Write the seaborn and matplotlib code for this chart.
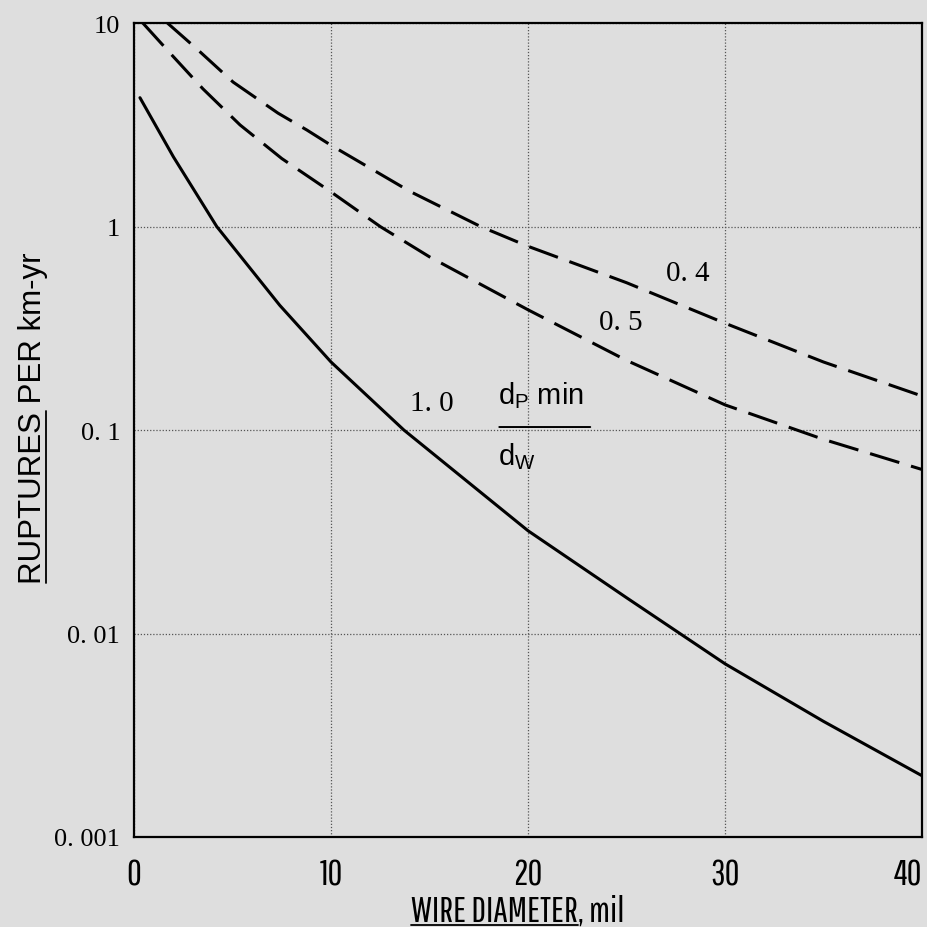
import numpy as np
import pandas as pd
import matplotlib
matplotlib.use('Agg')
import matplotlib.pyplot as plt
from matplotlib.lines import Line2D
from matplotlib.ticker import FixedLocator, NullLocator
import seaborn as sns

# curve values (x = wire diameter in mil, y = ruptures per km-yr)
x_10 = [0.3, 2.0, 4.2, 7.4, 10.0, 13.7, 20.0, 25.0, 30.0, 35.0, 40.0]
y_10 = [4.3, 2.2, 1.0, 0.41, 0.216, 0.1, 0.032, 0.015, 0.0071, 0.0037, 0.0020]

x_05 = [0.45, 1.93, 3.5, 5.38, 7.5, 8.93, 10.0, 12.5, 15.0, 20.0, 25.0, 30.0, 35.0, 40.0]
y_05 = [10.0, 6.95, 4.75, 3.16, 2.16, 1.74, 1.48, 1.0, 0.71, 0.39, 0.22, 0.133, 0.090, 0.064]

x_04 = [1.7, 3.2, 5.03, 7.31, 8.78, 10.0, 14.0, 17.6, 20.0, 25.0, 30.0, 35.0, 40.0]
y_04 = [10.0, 7.45, 5.13, 3.61, 2.98, 2.51, 1.49, 1.0, 0.80, 0.53, 0.335, 0.216, 0.147]

x_ticks = [0, 10, 20, 30, 40]
x_ticklabels = ['0', '10', '20', '30', '40']
y_ticks = [0.001, 0.01, 0.1, 1, 10]
y_ticklabels = ['0. 001', '0. 01', '0. 1', '1', '10']

df = pd.concat([
    pd.DataFrame({'x': x_10, 'y': y_10, 'ratio': '1.0'}),
    pd.DataFrame({'x': x_05, 'y': y_05, 'ratio': '0.5'}),
    pd.DataFrame({'x': x_04, 'y': y_04, 'ratio': '0.4'}),
], ignore_index=True)

sns.set_style('white')
bg = '#dedede'
narrow = ['Pathway Gothic One', 'Roboto Condensed', 'Liberation Sans', 'DejaVu Sans']
sans = ['Liberation Sans', 'DejaVu Sans']
serif = ['Liberation Serif', 'DejaVu Serif']
plt.rcParams['font.family'] = sans
plt.rcParams['mathtext.fontset'] = 'custom'
plt.rcParams['mathtext.rm'] = 'Liberation Sans'
plt.rcParams['mathtext.it'] = 'Liberation Sans'
for k in ['text.color', 'axes.labelcolor', 'xtick.color', 'ytick.color']:
    plt.rcParams[k] = 'black'

fig = plt.figure(figsize=(9.27, 9.28), dpi=100, facecolor=bg)
ax = fig.add_axes([0.1446, 0.097, 0.85, 0.877])
ax.set_facecolor(bg)

sns.lineplot(data=df, x='x', y='y', style='ratio',
             dashes={'1.0': '', '0.5': (10, 4), '0.4': (10, 4)},
             color='black', linewidth=2.2, estimator=None, sort=False,
             legend=False, ax=ax)

ax.set_yscale('log')
ax.set_xlim(0, 40)
ax.set_ylim(0.001, 10)
ax.xaxis.set_major_locator(FixedLocator(x_ticks))
ax.set_xticklabels(x_ticklabels)
ax.yaxis.set_major_locator(FixedLocator(y_ticks))
ax.yaxis.set_minor_locator(NullLocator())
ax.set_yticklabels(y_ticklabels)
ax.tick_params(axis='x', length=0, pad=15, labelsize=26)
ax.tick_params(axis='y', length=0, pad=10, labelsize=19)
for lab in ax.get_xticklabels():
    lab.set_family(narrow)
ax.get_xticklabels()[-1].set_ha('right')
for lab in ax.get_yticklabels():
    lab.set_family(serif)

ax.grid(True, which='major', linestyle=(0, (1, 1.5)), color='#555555', linewidth=0.9)
for s in ax.spines.values():
    s.set_visible(True)
    s.set_color('black')
    s.set_linewidth(1.6)

ax.set_xlabel('WIRE DIAMETER, mil', fontsize=26, family=narrow)
ax.xaxis.set_label_coords(0.487, -0.070)
ax.set_ylabel('RUPTURES PER km-yr', fontsize=22.5, family=sans, va='center')
ax.yaxis.set_label_coords(-0.128, 0.516)

# curve labels
ax.text(28.1, 0.59, '0. 4', fontsize=21, family=serif, ha='center', va='center')
ax.text(24.7, 0.34, '0. 5', fontsize=21, family=serif, ha='center', va='center')
ax.text(15.1, 0.136, '1. 0', fontsize=21, family=serif, ha='center', va='center')
ax.text(18.5, 0.15, r'd$_\mathregular{P}$ min', fontsize=21,
        family=sans, ha='left', va='center')
ax.annotate('', xy=(23.3, 0.1035), xytext=(18.4, 0.1035),
            arrowprops=dict(arrowstyle='-', color='black', lw=1.4))
ax.text(18.5, 0.075, r'd$_\mathregular{W}$', fontsize=21,
        family=sans, ha='left', va='center')

# underline the first word of each axis label
fig.canvas.draw()
r = fig.canvas.get_renderer()
inv = fig.transFigure.inverted()

xl = ax.xaxis.label
bb = xl.get_window_extent(r)
tmp = fig.text(0, 0, 'WIRE DIAMETER', fontproperties=xl.get_fontproperties())
w = tmp.get_window_extent(r).width
tmp.remove()
p0 = inv.transform((bb.x0, bb.y0 + 2))
p1 = inv.transform((bb.x0 + w, bb.y0 + 2))
fig.add_artist(Line2D([p0[0], p1[0]], [p0[1], p1[1]], color='black', lw=1.3))

yl = ax.yaxis.label
bb = yl.get_window_extent(r)
tmp = fig.text(0, 0, 'RUPTURES', fontproperties=yl.get_fontproperties())
w = tmp.get_window_extent(r).width
tmp.remove()
p0 = inv.transform((bb.x1 - 2, bb.y0))
p1 = inv.transform((bb.x1 - 2, bb.y0 + w))
fig.add_artist(Line2D([p0[0], p1[0]], [p0[1], p1[1]], color='black', lw=1.3))

fig.savefig('out.png', dpi=100, facecolor=bg)
